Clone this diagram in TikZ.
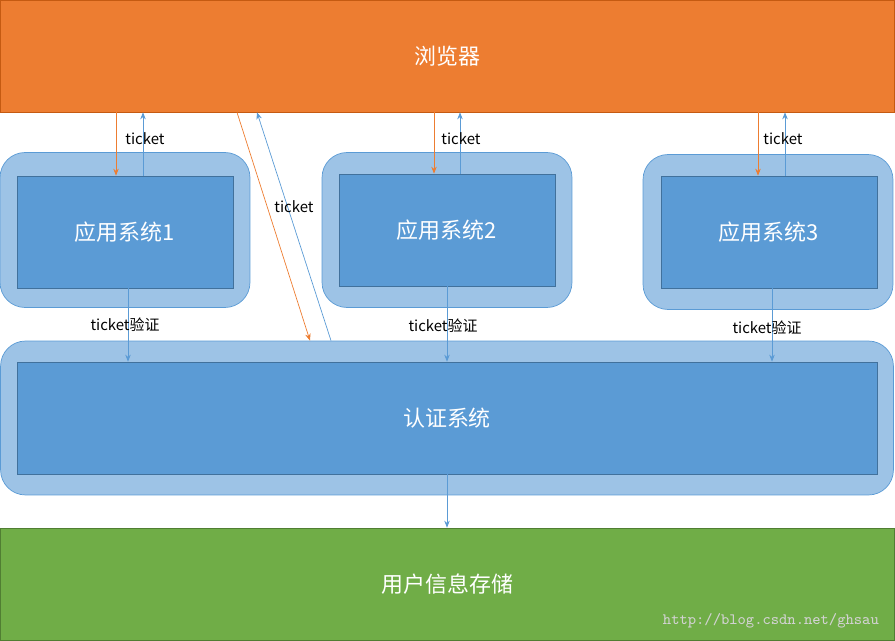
\documentclass[tikz,border=0pt]{standalone}
\usepackage{fontspec}
\setmainfont{Noto Sans CJK SC}
\usetikzlibrary{arrows.meta,positioning}
\definecolor{orangefill}{HTML}{ED7D31}
\definecolor{orangeline}{HTML}{C55A11}
\definecolor{bluefill}{HTML}{5B9BD5}
\definecolor{blueline}{HTML}{41719C}
\definecolor{paleblue}{HTML}{9DC3E6}
\definecolor{greenfill}{HTML}{70AD47}
\definecolor{greenline}{HTML}{507E32}
\tikzset{
  band/.style={rectangle, draw=#1line, fill=#1fill, text=white, font=\fontsize{12.5}{14}\selectfont, inner sep=0pt},
  outer/.style={rectangle, rounded corners=0.5cm, draw=bluefill, fill=paleblue, inner sep=0pt},
  inner/.style={rectangle, draw=blueline, fill=bluefill, text=white, font=\fontsize{12.5}{14}\selectfont, inner sep=0pt, minimum width=4.32cm, minimum height=2.24cm},
  oarr/.style={draw=orangefill, -{Stealth[length=1.4mm, width=1.1mm]}},
  barr/.style={draw=bluefill, -{Stealth[length=1.4mm, width=1.1mm]}},
  lbl/.style={font=\fontsize{8.5}{10}\selectfont, inner sep=1pt}
}
\begin{document}
\begin{tikzpicture}[x=0.02cm, y=-0.02cm]
\useasboundingbox (0,0) rectangle (895,641);
\node[band=orange, minimum width=17.88cm, minimum height=2.24cm] (browser) at (447.5,56) {浏览器};
\node[band=green, minimum width=17.88cm, minimum height=2.24cm] (store) at (447.5,584) {用户信息存储};
\node[outer, minimum width=5cm, minimum height=3.1cm] (o1) at (125,230) {};
\node[outer, minimum width=5cm, minimum height=3.1cm] (o2) at (447,230) {};
\node[outer, minimum width=5cm, minimum height=3.1cm] (o3) at (768,232) {};
\node[outer, minimum width=17.86cm, minimum height=3.08cm] (oa) at (447,418) {};
\node[inner] (app1) at (125,232) {应用系统1};
\node[inner] (app2) at (447,230) {应用系统2};
\node[inner] (app3) at (769,232) {应用系统3};
\node[inner, minimum width=17.2cm] (auth) at (447,418) {认证系统};
% ticket between browser and apps
\draw[oarr] (browser.south -| 116,0) -- (app1.north -| 116,0);
\draw[barr] (app1.north -| 143,0) -- (browser.south -| 143,0);
\node[lbl] (t1) at (145,139) {ticket};
\draw[oarr] (browser.south -| 434,0) -- (app2.north -| 434,0);
\draw[barr] (app2.north -| 460,0) -- (browser.south -| 460,0);
\node[lbl] (t2) at (461,139) {ticket};
\draw[oarr] (browser.south -| 758,0) -- (app3.north -| 758,0);
\draw[barr] (app3.north -| 785,0) -- (browser.south -| 785,0);
\node[lbl] (t3) at (783,139) {ticket};
% ticket between browser and auth
\draw[oarr] (browser.south -| 237,0) -- (oa.north -| 310,0);
\draw[barr] (oa.north -| 331,0) -- (browser.south -| 257,0);
\node[lbl] (t4) at (294,207) {ticket};
% ticket check
\draw[barr] (app1.south -| 128,0) -- (auth.north -| 128,0);
\node[lbl] (v1) at (125,325) {ticket验证};
\draw[barr] (app2.south -| 447,0) -- (auth.north -| 447,0);
\node[lbl] (v2) at (443,326) {ticket验证};
\draw[barr] (app3.south -| 772,0) -- (auth.north -| 772,0);
\node[lbl] (v3) at (767,328) {ticket验证};
\draw[barr] (auth.south -| 447,0) -- (store.north -| 447,0);
\node[font=\ttfamily\fontsize{9}{10}\selectfont, text=gray!35, anchor=east] (mark) at (885,621) {http://blog.csdn.net/ghsau};
\end{tikzpicture}
\end{document}
